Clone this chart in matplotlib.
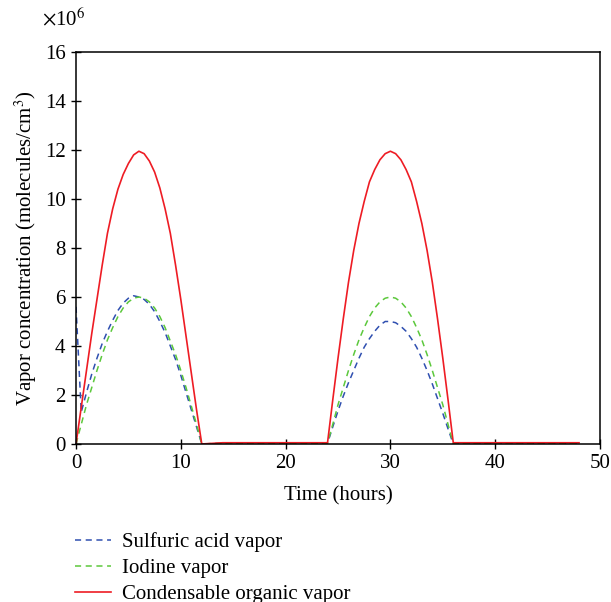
import matplotlib.pyplot as plt
import numpy as np

plt.rcParams['font.family'] = ['Liberation Serif', 'DejaVu Serif']
plt.rcParams['mathtext.fontset'] = 'stix'

# time (hours) and concentrations (x 10^6 molecules/cm^3)
t_hours = [0, 0.5, 1, 1.5, 2, 2.5, 3, 3.5, 4, 4.5, 5, 5.5, 6,
           6.5, 7, 7.5, 8, 8.5, 9, 9.5, 10, 10.5, 11, 11.5, 12,
           14, 16, 18, 20, 22,
           24, 24.5, 25, 25.5, 26, 26.5, 27, 27.5, 28, 28.5, 29, 29.5, 30,
           30.5, 31, 31.5, 32, 32.5, 33, 33.5, 34, 34.5, 35, 35.5, 36,
           38, 40, 42, 44, 46, 48]

sulfuric = [5.6, 1.3, 2.1, 2.85, 3.5, 4.1, 4.6, 5.05, 5.45, 5.75, 5.95, 6.05, 6.0,
            5.9, 5.7, 5.4, 5.0, 4.55, 4.0, 3.45, 2.8, 2.1, 1.4, 0.7, 0.0,
            0.03, 0.03, 0.03, 0.03, 0.03,
            0.03, 0.7, 1.35, 1.95, 2.5, 3.0, 3.5, 3.95, 4.3, 4.6, 4.85, 5.0, 5.0,
            4.95, 4.8, 4.6, 4.3, 3.95, 3.5, 3.0, 2.45, 1.85, 1.25, 0.62, 0.0,
            0.03, 0.03, 0.03, 0.03, 0.03, 0.03]

iodine = [0.0, 0.8, 1.6, 2.3, 3.0, 3.65, 4.25, 4.75, 5.2, 5.55, 5.8, 5.95, 6.0,
          5.95, 5.8, 5.55, 5.2, 4.75, 4.2, 3.65, 3.0, 2.3, 1.55, 0.8, 0.0,
          0.03, 0.03, 0.03, 0.03, 0.03,
          0.03, 0.8, 1.6, 2.3, 3.0, 3.65, 4.25, 4.75, 5.2, 5.55, 5.8, 5.95, 6.0,
          5.95, 5.8, 5.55, 5.2, 4.75, 4.25, 3.65, 3.0, 2.3, 1.6, 0.8, 0.0,
          0.03, 0.03, 0.03, 0.03, 0.03, 0.03]

organic = [0.0, 1.5, 3.0, 4.5, 5.9, 7.3, 8.6, 9.6, 10.4, 11.0, 11.45, 11.8, 11.95,
           11.85, 11.55, 11.1, 10.45, 9.6, 8.6, 7.3, 5.9, 4.4, 2.9, 1.4, 0.0,
           0.05, 0.05, 0.05, 0.05, 0.05,
           0.05, 1.8, 3.5, 5.1, 6.6, 7.9, 9.0, 9.9, 10.7, 11.2, 11.6, 11.85, 11.95,
           11.85, 11.6, 11.2, 10.7, 9.9, 9.0, 7.9, 6.6, 5.1, 3.5, 1.8, 0.05,
           0.05, 0.05, 0.05, 0.05, 0.05, 0.05]

fig = plt.figure(figsize=(6.11, 6.02), dpi=100)
ax = fig.add_axes([0.1244, 0.2625, 0.8576, 0.6511])

ax.plot(t_hours, sulfuric, color='#2f4fb0', lw=1.1, linestyle=(0, (4, 3)),
        label='Sulfuric acid vapor')
ax.plot(t_hours, iodine, color='#5cc83c', lw=1.1, linestyle=(0, (4, 3)),
        label='Iodine vapor')
ax.plot(t_hours, organic, color='#ee1c24', lw=1.2, label='Condensable organic vapor')

ax.set_xlim(0, 50)
ax.set_ylim(0, 16)
ax.set_xticks(np.arange(0, 51, 10))
ax.set_yticks(np.arange(0, 17, 2))
ax.tick_params(direction='inout', length=7, width=1, labelsize=15, pad=4)
for s in ax.spines.values():
    s.set_linewidth(1.1)

ax.set_xlabel('Time (hours)', fontsize=15, labelpad=9)
ax.set_ylabel('Vapor concentration (molecules/cm$^3$)', fontsize=15, labelpad=4)
ax.text(-0.065, 1.055, r'$\times$10$^6$', transform=ax.transAxes, fontsize=15,
        ha='left', va='bottom')

ax.legend(loc='upper left', bbox_to_anchor=(-0.001, -0.226), frameon=False,
          fontsize=15, handlelength=1.7, handletextpad=0.55, labelspacing=0.3,
          borderaxespad=0, borderpad=0)

fig.savefig('out.png', dpi=100)
